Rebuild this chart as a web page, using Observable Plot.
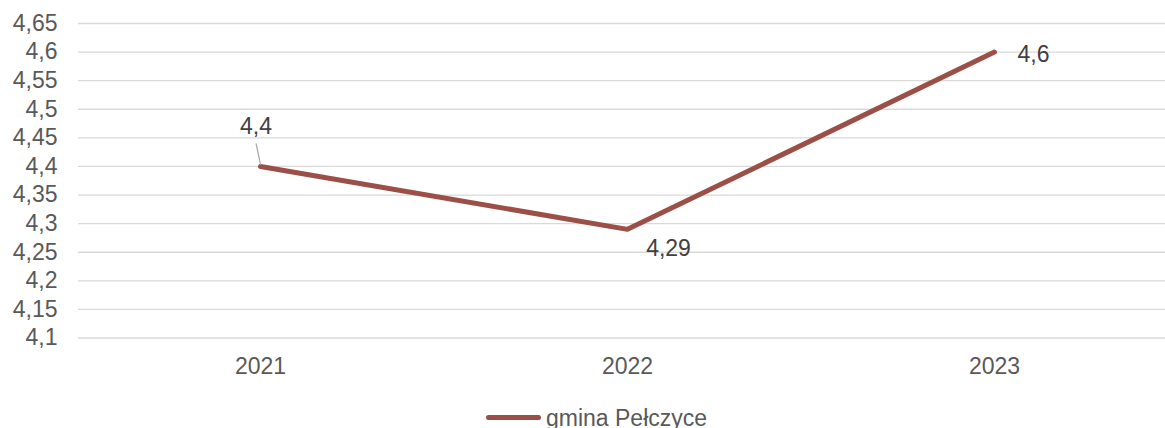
<!DOCTYPE html>
<html>
<head>
<meta charset="utf-8">
<script src="https://cdn.jsdelivr.net/npm/d3@7"></script>
<script src="https://cdn.jsdelivr.net/npm/@observablehq/plot@0.6"></script>
<style>
  html, body { margin: 0; padding: 0; background: #fff; overflow: hidden; }
  #wrap { position: relative; width: 1165px; height: 428px; overflow: hidden; font-family: "Liberation Sans", Arial, sans-serif; }
  #legend { position: absolute; left: 0; top: 395px; width: 1165px; height: 33px; }
  #legend .sw { position: absolute; left: 486px; top: 20px; width: 55px; height: 5px; border-radius: 3px; background: #9b4f47; }
  #legend .lb { position: absolute; left: 546px; top: 9px; font-size: 23px; color: #595959; line-height: 28px; white-space: nowrap; }
</style>
</head>
<body>
<div id="wrap"><div id="chart"></div><div id="legend"><div class="sw"></div><div class="lb"></div></div></div>
<script>
const years = ["2021", "2022", "2023"];
const values = [4.4, 4.29, 4.6];
const seriesName = "gmina Pełczyce";
const yTicks = [4.1, 4.15, 4.2, 4.25, 4.3, 4.35, 4.4, 4.45, 4.5, 4.55, 4.6, 4.65];

const data = years.map((y, i) => ({year: y, value: values[i]}));
const fmt = v => String(v).replace(".", ",");
const lineColor = "#9b4f47";
const labelOffsets = {"2021": [-4.5, -40], "2022": [41, 19], "2023": [39, 3]};

const labelMarks = data.map(d => Plot.text([d], {
  x: "year", y: "value", text: r => fmt(r.value), fill: "#404040", fontSize: 23,
  dx: labelOffsets[d.year][0], dy: labelOffsets[d.year][1]
}));

const chart = Plot.plot({
  width: 1165,
  height: 395,
  marginTop: 23,
  marginBottom: 57.5,
  marginLeft: 78,
  marginRight: 0,
  style: {fontFamily: "Liberation Sans, Arial, sans-serif", fontSize: "23px", color: "#595959", background: "#fff"},
  x: {type: "point", domain: years, range: [76, 1177], padding: 0.5, label: null},
  y: {domain: [4.1, 4.65], label: null},
  marks: [
    Plot.ruleY(yTicks, {stroke: "#d9d9d9", strokeWidth: 1.3}),
    Plot.axisY(yTicks, {tickSize: 0, tickPadding: 21, tickFormat: fmt, fill: "#595959", fontSize: 23, label: null}),
    Plot.axisX({tickSize: 0, tickPadding: 20, fill: "#595959", fontSize: 23, label: null}),
    Plot.line(data, {x: "year", y: "value", stroke: lineColor, strokeWidth: 5, strokeLinejoin: "round", strokeLinecap: "round"}),
    Plot.vector(data.filter(d => d.year === "2021"), {
      x: "year", y: "value", anchor: "start", length: 21, rotate: -12, dy: -2,
      stroke: "#a6a6a6", strokeWidth: 1.2,
      shape: {draw(context, l) { context.moveTo(0, 0); context.lineTo(0, -l); }}
    }),
    ...labelMarks
  ]
});
document.getElementById("chart").append(chart);
document.querySelector("#legend .lb").textContent = seriesName;
</script>
</body>
</html>
